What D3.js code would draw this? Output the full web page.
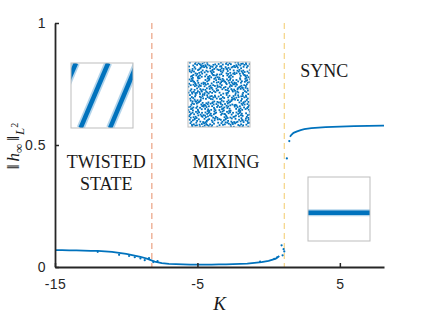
<!DOCTYPE html>
<html>
<head>
<meta charset="utf-8">
<script src="https://cdn.jsdelivr.net/npm/d3@7"></script>
<style>
  body { margin: 0; background: #fff; }
  svg { display: block; }
  .tick text { font-family: "Liberation Sans", Arial, sans-serif; font-size: 14px; fill: #262626; letter-spacing: 0.5px; }
</style>
</head>
<body>
<svg width="423" height="317"></svg>
<script>
// main curve, continuous parts (K, ||h||)
var lowK = [-15, -14.5, -14, -13.5, -13, -12.5, -12, -11.5, -11, -10.5, -10, -9.5, -9, -8.5, -8, -7.5,
            -7, -6.5, -6, -5.5, -5, -4.5, -4, -3.5, -3, -2.5, -2, -1.5, -1, -0.5, 0, 0.5, 0.75];
var lowH = [0.069, 0.069, 0.068, 0.068, 0.067, 0.066, 0.066, 0.064, 0.062, 0.058, 0.054, 0.048, 0.042, 0.033, 0.022, 0.016,
            0.013, 0.012, 0.011, 0.010, 0.010, 0.010, 0.010, 0.011, 0.011, 0.012, 0.013, 0.014, 0.017, 0.020, 0.025, 0.034, 0.045];
var syncK = [1.5, 1.6, 1.75, 2, 2.25, 2.5, 3, 3.5, 4, 5, 6, 7, 8, 8.1];
var syncH = [0.534, 0.542, 0.55, 0.556, 0.561, 0.565, 0.569, 0.571, 0.573, 0.575, 0.577, 0.578, 0.579, 0.579];
// loose points
var looseK = [1.28, 1.45, 0.91, 1.05, 1.1, 0.98, 0.6, 0.4, -0.6, -12, -10.5, -9.8, -9.4, -9.0, -8.7, -8.4, -8.1, -7.8];
var looseH = [0.445, 0.516, 0.089, 0.073, 0.064, 0.048, 0.04, 0.033, 0.022, 0.062, 0.05, 0.045, 0.04, 0.035, 0.028, 0.036, 0.02, 0.024];
// regime boundaries
var boundK = [-8.2, 1.1];
var boundColor = ["#D95319", "#EDB120"];
var xTicks = [-15, -5, 5];
var yTicks = [0, 0.5, 1];
var labels = [["TWISTED", -11.4, 0.405], ["STATE", -11.4, 0.315], ["MIXING", -3, 0.405], ["SYNC", 3.9, 0.78]];
// insets (unit coords)
var twistStripes = [[[-0.37, 0], [0.08, 1]], [[0.155, 0], [0.6, 1]], [[0.63, 0], [1.07, 1]]];
var mixTile = [[.03,.12],[.11,.45],[.19,.83],[.27,.06],[.35,.61],[.42,.29],[.51,.94],[.58,.38],[.66,.72],[.74,.15],
               [.82,.53],[.9,.88],[.97,.31],[.07,.67],[.15,.24],[.23,.97],[.31,.42],[.39,.79],[.47,.09],[.55,.56],
               [.63,.21],[.71,.91],[.79,.34],[.87,.68],[.95,.02],[.02,.49],[.13,.76],[.21,.33],[.29,.89],[.37,.17],
               [.45,.71],[.53,.27],[.61,.85],[.69,.48],[.77,.04],[.85,.26],[.93,.63],[.09,.93],[.17,.58],[.25,.14],
               [.33,.81],[.41,.47],[.49,.64],[.57,.11],[.65,.99],[.73,.59],[.81,.77],[.89,.19],[.99,.74],[.44,.52]];
var syncBand = 0.44;

var BLUE = "#0072BD";
var SERIF = "'Liberation Serif', 'Times New Roman', 'Nimbus Roman', 'DejaVu Serif', serif";
var svg = d3.select("svg");
var x = d3.scaleLinear().domain([-15, 8.1]).range([55, 384]);
var y = d3.scaleLinear().domain([0, 1]).range([267, 23]);

// boundaries
svg.selectAll(".bound").data(boundK).enter().append("line")
    .attr("x1", function (d) { return x(d); }).attr("x2", function (d) { return x(d); })
    .attr("y1", y(1)).attr("y2", y(0))
    .style("stroke", function (d, i) { return boundColor[i]; })
    .style("stroke-opacity", 0.55)
    .style("stroke-width", 1.2)
    .style("stroke-dasharray", "6,4");

// data
var line = d3.line().x(function (d) { return x(d[0]); }).y(function (d) { return y(d[1]); });
[[lowK, lowH], [syncK, syncH]].forEach(function (s) {
    var pts = d3.zip(s[0], s[1]);
    svg.append("path").datum(pts).attr("d", line)
        .style("fill", "none").style("stroke", BLUE).style("stroke-width", 1.8);
});
svg.selectAll(".loose").data(d3.zip(looseK, looseH)).enter().append("circle")
    .attr("cx", function (d) { return x(d[0]); }).attr("cy", function (d) { return y(d[1]); })
    .attr("r", 1.1).style("fill", BLUE);

// axes
var xAxis = d3.axisBottom(x).tickValues(xTicks).tickSizeInner(-4).tickSizeOuter(0).tickPadding(12)
    .tickFormat(function (d) { return String(d); });
var gx = svg.append("g").attr("transform", "translate(0," + y(0) + ")").call(xAxis);
var yAxis = d3.axisLeft(y).tickValues(yTicks).tickSizeInner(-4).tickSizeOuter(0).tickPadding(9)
    .tickFormat(function (d) { return String(d); });
var gy = svg.append("g").attr("transform", "translate(" + x(-15) + ",0)").call(yAxis);
[gx, gy].forEach(function (g) {
    g.select(".domain").style("stroke", "#262626").style("stroke-width", 1.8);
    g.selectAll(".tick line").style("stroke", "#262626").style("stroke-width", 1.5);
});

svg.append("text").attr("x", (x.range()[0] + x.range()[1]) / 2).attr("y", 310)
    .attr("text-anchor", "middle").attr("font-family", SERIF).attr("font-size", 19)
    .attr("font-style", "italic").attr("fill", "#1a1a1a").text("K");

var yl = svg.append("text").attr("text-anchor", "middle").attr("font-family", SERIF).attr("fill", "#1a1a1a")
    .attr("transform", "translate(19,146) rotate(-90)").attr("font-size", 17);
yl.append("tspan").text("\u2016");
yl.append("tspan").attr("dx", 3).attr("font-style", "italic").text("h");
yl.append("tspan").attr("dy", 4).attr("font-size", 13).text("\u221e");
yl.append("tspan").attr("dy", -4).attr("dx", 3).text("\u2016");
yl.append("tspan").attr("dy", 5).attr("dx", 1).attr("font-size", 13).attr("font-style", "italic").text("L");
yl.append("tspan").attr("dy", -6).attr("font-size", 10).text("2");

svg.selectAll(".rl").data(labels).enter().append("text")
    .attr("font-family", SERIF).attr("font-size", 18).attr("fill", "#1a1a1a")
    .attr("x", function (d) { return x(d[1]); }).attr("y", function (d) { return y(d[2]); })
    .attr("text-anchor", "middle").text(function (d) { return d[0]; });

// insets
function inset(id, left, top, w, h) {
    var g = svg.append("g").attr("transform", "translate(" + left + "," + top + ")");
    g.append("clipPath").attr("id", id).append("rect").attr("width", w).attr("height", h);
    g.append("rect").attr("width", w).attr("height", h).style("fill", "#fff");
    var body = g.append("g").attr("clip-path", "url(#" + id + ")");
    g.append("rect").attr("width", w).attr("height", h)
        .style("fill", "none").style("stroke", "#bdbdbd").style("stroke-width", 1);
    return { body: body, sx: d3.scaleLinear().range([0, w]), sy: d3.scaleLinear().range([h, 0]) };
}

var tw = inset("clipT", 71, 63, 62, 65);
var tline = d3.line().x(function (d) { return tw.sx(d[0]); }).y(function (d) { return tw.sy(d[1]); });
tw.body.selectAll(".sf").data(twistStripes).enter().append("path").attr("d", tline)
    .style("stroke", BLUE).style("stroke-width", 8).style("stroke-opacity", 0.3).style("fill", "none");
tw.body.selectAll(".sc").data(twistStripes).enter().append("path").attr("d", tline)
    .style("stroke", BLUE).style("stroke-width", 4.5).style("fill", "none");

var mx = inset("clipM", 188, 62, 62, 65);
var tiles = [];
for (var i = 0; i < 4; ++i) {
    for (var j = 0; j < 4; ++j) {
        mixTile.forEach(function (p, k) {
            if ((k + i + 2 * j) % 5 === 0) { return; }
            var u = (i + j) % 2 ? p[1] : p[0];
            var v = (i + j) % 2 ? p[0] : p[1];
            if (i % 2) { u = 1 - u; }
            if (j % 2) { v = 1 - v; }
            tiles.push([(i + u) / 4, (j + v) / 4]);
        });
    }
}
mx.body.selectAll(".md").data(tiles).enter().append("rect")
    .attr("x", function (d) { return mx.sx(d[0]) - 0.8; }).attr("y", function (d) { return mx.sy(d[1]) - 0.8; })
    .attr("width", 1.8).attr("height", 1.8).style("fill", BLUE);

var sy = inset("clipS", 308, 177, 62, 64);
sy.body.append("line").attr("x1", 0).attr("x2", 62).attr("y1", sy.sy(syncBand)).attr("y2", sy.sy(syncBand))
    .style("stroke", BLUE).style("stroke-width", 7).style("stroke-opacity", 0.3);
sy.body.append("line").attr("x1", 0).attr("x2", 62).attr("y1", sy.sy(syncBand)).attr("y2", sy.sy(syncBand))
    .style("stroke", BLUE).style("stroke-width", 4.5);
</script>
</body>
</html>
